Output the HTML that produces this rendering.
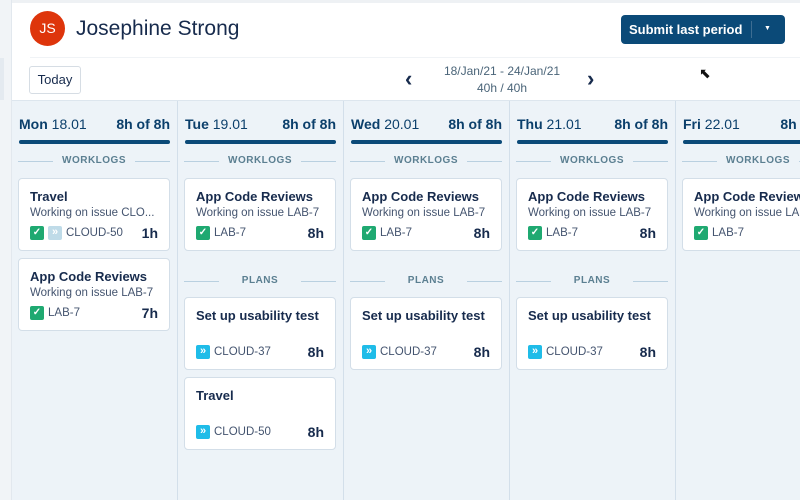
<!DOCTYPE html>
<html><head><meta charset="utf-8"><style>
*{margin:0;padding:0;box-sizing:border-box}
html,body{width:800px;height:500px;overflow:hidden}
body{background:#eef3f8;font-family:"Liberation Sans",sans-serif;position:relative;color:#172b4d}
#wrap{position:absolute;left:0;top:0;width:800px;height:500px;overflow:hidden}
.abs{position:absolute}
.col{position:absolute;top:101px;height:399px;width:166px;border-right:1px solid #d3dfea;background:#edf3f8}
.dh{position:absolute;top:116px;left:7px;width:151px;font-size:14px;color:#0b3f6b;white-space:nowrap}
.dh b{font-weight:bold}
.dh .r{position:absolute;right:0;top:0;font-weight:bold}
.bar{position:absolute;top:140px;left:7px;width:151px;height:4px;border-radius:2px;background:#0b4a78}
.sec{position:absolute;left:6px;width:152px;height:12px;font-size:10px;font-weight:bold;color:#5b7f91;letter-spacing:.5px;text-align:center}
.sec:before,.sec:after{content:"";position:absolute;top:6px;width:35px;height:1px;background:#b9d0e0}
.sec:before{left:0}.sec:after{right:0}
.card{position:absolute;left:6px;width:152px;height:73px;background:#fff;border:1px solid #d3dee8;border-radius:4px}
.t{position:absolute;left:11px;top:10px;font-size:13px;font-weight:bold;color:#172b4d;white-space:nowrap}
.s{position:absolute;left:11px;top:28px;font-size:11.5px;color:#44546f;white-space:nowrap}
.f{position:absolute;left:11px;top:47px;font-size:11.5px;color:#44546f;display:flex;align-items:center;white-space:nowrap}
.h{position:absolute;right:11px;top:46px;font-size:14px;font-weight:bold;color:#172b4d}
.ck{width:14px;height:14px;background:#1fa971;border-radius:2px;color:#fff;font-size:10px;line-height:14px;text-align:center;margin-right:4px;font-weight:bold}
.pl{width:14px;height:14px;background:#1fbce8;border-radius:2px;color:#fff;font-size:11px;line-height:13px;text-align:center;margin-right:4px;font-weight:bold}
.plg{background:#bfdbe8}
</style></head><body><div id="wrap">
<div class="abs" style="left:0;top:0;width:12px;height:500px;background:#f1f4f7;border-right:1px solid #e2e8ee"></div>
<div class="abs" style="left:0;top:58px;width:4px;height:42px;background:#e4eaf0"></div>
<div class="abs" style="left:12px;top:0;width:788px;height:101px;background:#fff;border-bottom:1px solid #dde6ee"></div>
<div class="abs" style="left:12px;top:0;width:788px;height:3px;background:#eef1f4"></div>
<div class="abs" style="left:30px;top:11px;width:35px;height:35px;border-radius:50%;background:#de350b;color:#fff;font-size:14px;line-height:35px;text-align:center">JS</div>
<div class="abs" style="left:76px;top:17px;font-size:21px;color:#172b4d">Josephine Strong</div>
<div class="abs" style="left:30px;top:57px;width:770px;height:1px;background:#f0f3f6"></div>
<div class="abs" style="left:29px;top:66px;width:52px;height:28px;border:1px solid #d6dde4;border-radius:3px;font-size:13px;line-height:26px;text-align:center;color:#172b4d">Today</div>
<div class="abs" style="left:621px;top:15px;width:164px;height:29px;border-radius:4px;background:#0b4a78;color:#fff;font-size:13px;font-weight:bold;line-height:29px;padding-left:8px">Submit last period</div>
<div class="abs" style="left:751px;top:21px;width:1px;height:17px;background:#3d6d92"></div>
<div class="abs" style="left:764px;top:25px;color:#fff;font-size:7px;line-height:8px">▼</div>
<div class="abs" style="left:405px;top:66px;font-size:22px;font-weight:bold;color:#172b4d">‹</div>
<div class="abs" style="left:587px;top:66px;font-size:22px;font-weight:bold;color:#172b4d">›</div>
<div class="abs" style="left:420px;top:63px;width:164px;text-align:center;font-size:12px;color:#4a6478;line-height:17px">18/Jan/21 - 24/Jan/21<br>40h / 40h</div>
<div class="abs" style="left:699px;top:65px;font-size:14px;color:#111">&#x2B09;</div>

<div class="col" style="left:12px"></div>
<div class="col" style="left:178px"></div>
<div class="col" style="left:344px"></div>
<div class="col" style="left:510px"></div>
<div class="col" style="left:676px;width:124px;border-right:none"></div>

<div id="c"></div>
</div>
<script>
var cols=[12,178,344,510,676];
var days=[['Mon','18.01'],['Tue','19.01'],['Wed','20.01'],['Thu','21.01'],['Fri','22.01']];
var H='';
cols.forEach(function(x,i){
 H+='<div class="abs" style="left:'+x+'px;top:0;width:166px;height:500px">';
 H+='<div class="dh"><b>'+days[i][0]+'</b> '+days[i][1]+'<span class="r">8h of 8h</span></div>';
 H+='<div class="bar"></div>';
 H+='<div class="sec" style="top:155px">WORKLOGS</div>';
 if(i==0){
  H+='<div class="card" style="top:178px"><div class="t">Travel</div><div class="s">Working on issue CLO...</div><div class="f"><span class="ck">✓</span><span class="pl plg">»</span>CLOUD-50</div><div class="h">1h</div></div>';
  H+='<div class="card" style="top:258px"><div class="t">App Code Reviews</div><div class="s">Working on issue LAB-7</div><div class="f"><span class="ck">✓</span>LAB-7</div><div class="h">7h</div></div>';
 } else {
  H+='<div class="card" style="top:178px"><div class="t">App Code Reviews</div><div class="s">Working on issue LAB-7</div><div class="f"><span class="ck">✓</span>LAB-7</div><div class="h">8h</div></div>';
 }
 if(i>=1&&i<=3){
  H+='<div class="sec" style="top:275px">PLANS</div>';
  H+='<div class="card" style="top:297px"><div class="t">Set up usability test</div><div class="f"><span class="pl">»</span>CLOUD-37</div><div class="h">8h</div></div>';
 }
 if(i==1){
  H+='<div class="card" style="top:377px"><div class="t">Travel</div><div class="f"><span class="pl">»</span>CLOUD-50</div><div class="h">8h</div></div>';
 }
 H+='</div>';
});
document.getElementById('c').innerHTML=H;
</script>
</body></html>
